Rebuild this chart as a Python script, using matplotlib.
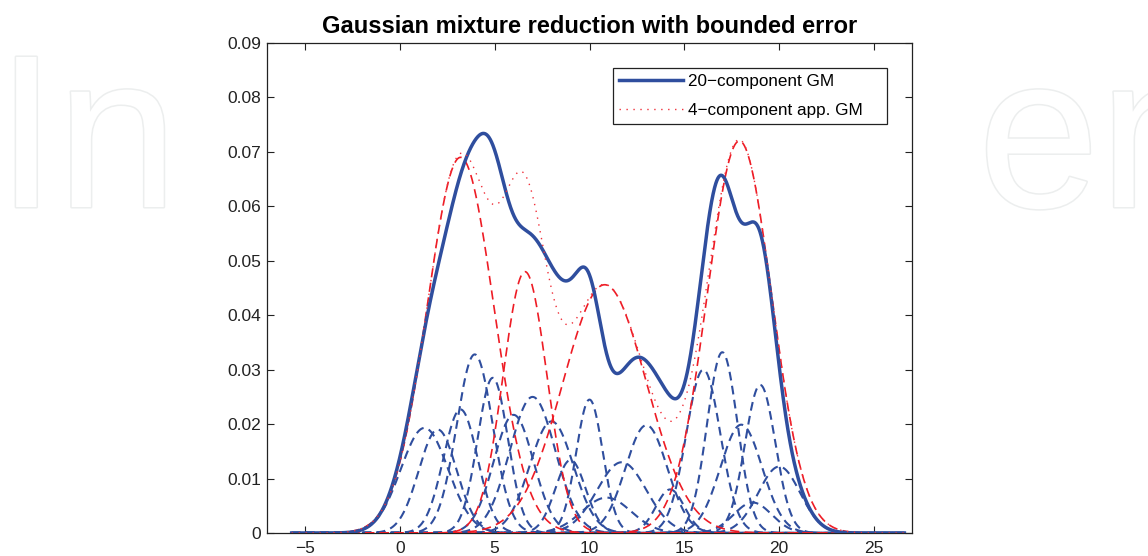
import numpy as np
import matplotlib
matplotlib.use('Agg')
import matplotlib.pyplot as plt
import matplotlib.patheffects as pe

# ---- data ----
# 20 original components: mean, std, peak height
blue_means = [1.3, 2.0, 3.2, 3.95, 4.9, 6.0, 7.0, 8.0, 9.0, 10.0,
              10.9, 11.7, 13.0, 14.25, 16.0, 17.0, 18.0, 19.0, 20.0, 18.6]
blue_sigmas = [1.25, 1.0, 0.9, 0.95, 0.8, 1.05, 1.2, 1.15, 0.8, 0.7,
               1.3, 1.3, 1.1, 0.75, 0.9, 0.8, 1.1, 0.8, 1.1, 1.0]
blue_peaks = [0.0193, 0.0190, 0.0227, 0.0328, 0.0285, 0.0217, 0.0250, 0.0205, 0.0134, 0.0245,
              0.0065, 0.0130, 0.0198, 0.0080, 0.0300, 0.0332, 0.0199, 0.0272, 0.0122, 0.0056]
# 4 reduced components
red_means = [3.2, 6.6, 10.8, 17.9]
red_sigmas = [1.75, 1.15, 2.2, 1.7]
red_peaks = [0.069, 0.048, 0.0456, 0.072]

x_range = (-5.7, 26.6)
xlim = (-7, 27)
ylim = (0, 0.09)
xticks = [-5, 0, 5, 10, 15, 20, 25]
yticks = [0, 0.01, 0.02, 0.03, 0.04, 0.05, 0.06, 0.07, 0.08, 0.09]
title = 'Gaussian mixture reduction with bounded error'
legend_labels = ['20\u2212component GM', '4\u2212component app. GM']

BLUE = '#2F4E9E'
RED = '#EE1C25'
RED_DOT = '#F0303A'
WM = '#ECEEEE'

plt.rcParams['font.family'] = ['Liberation Sans', 'DejaVu Sans']

x = np.linspace(x_range[0], x_range[1], 3000)


def comp(m, s, p):
    return p * np.exp(-(x - m) ** 2 / (2 * s ** 2))


fig = plt.figure(figsize=(11.48, 5.56), dpi=100)
fig.patch.set_facecolor('white')

# faint watermark letters beside the axes
wm_fx = [pe.Stroke(linewidth=2.2, foreground=WM), pe.Normal()]
fig.text(-4 / 1148, (556 - 207) / 556, 'In', fontsize=157, color='white',
         ha='left', va='baseline', zorder=-5, path_effects=wm_fx)
fig.text(978 / 1148, (556 - 207) / 556, 'en', fontsize=157, color='white',
         ha='left', va='baseline', zorder=-5, path_effects=wm_fx)

ax = fig.add_axes([267 / 1148, (556 - 533) / 556, (912 - 267) / 1148, (533 - 43) / 556])
ax.set_facecolor('white')

blue_sum = np.zeros_like(x)
for m, s, p in zip(blue_means, blue_sigmas, blue_peaks):
    c = comp(m, s, p)
    blue_sum += c
    ax.plot(x, c, color=BLUE, lw=1.5, dashes=(4.2, 2.6), zorder=2)

red_sum = np.zeros_like(x)
for m, s, p in zip(red_means, red_sigmas, red_peaks):
    c = comp(m, s, p)
    red_sum += c
    ax.plot(x, c, color=RED, lw=1.2, dashes=(5.5, 3.3), zorder=3)

l1, = ax.plot(x, blue_sum, color=BLUE, lw=2.5, zorder=4)
l2, = ax.plot(x, red_sum, color=RED_DOT, lw=1.0, dashes=(1.0, 4.0), zorder=5)

ax.set_xlim(*xlim)
ax.set_ylim(*ylim)
ax.set_xticks(xticks)
ax.set_yticks(yticks)
ax.set_xticklabels(['\u22125' if t < 0 else str(t) for t in xticks])
ax.set_yticklabels(['0' if t == 0 else f'{t:.2f}' for t in yticks])
ax.tick_params(direction='in', length=5, width=0.8, top=True, right=True,
               labelsize=12.5, colors='#222222')
ax.tick_params(axis='x', pad=6)
ax.tick_params(axis='y', pad=4.5)
for sp in ax.spines.values():
    sp.set_linewidth(0.9)
    sp.set_color('#222222')

ax.set_title(title, fontsize=17, fontweight='bold', pad=7)

leg = ax.legend([l1, l2], legend_labels, loc='upper left',
                bbox_to_anchor=(0.536, 0.835, 0.425, 0.114), mode='expand',
                borderaxespad=0, fontsize=12.3,
                handlelength=3.75, fancybox=False, framealpha=1,
                edgecolor='#222222', borderpad=0.35, labelspacing=0.8,
                handletextpad=0.3)
leg.get_frame().set_linewidth(0.9)

fig.savefig('out.png', dpi=100, facecolor='white')
